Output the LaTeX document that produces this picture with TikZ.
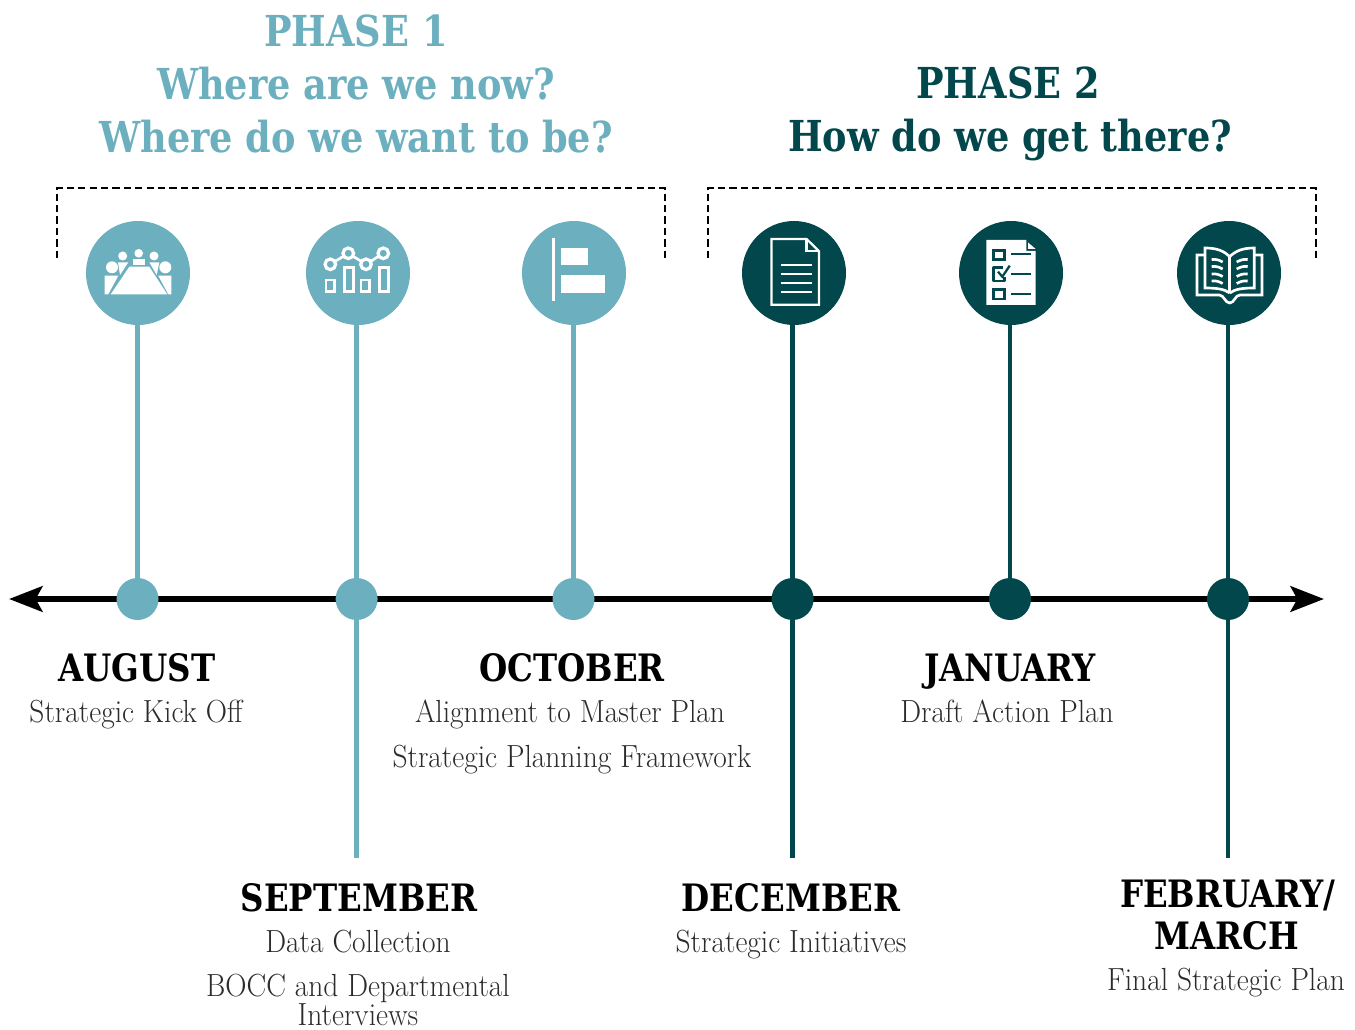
\documentclass[tikz,border=0pt]{standalone}
\usepackage{fontspec}
\usetikzlibrary{arrows.meta}
\newfontfamily\headfont[FakeStretch=0.86]{DejaVu Serif}
\newfontfamily\subfont[FakeStretch=0.92]{Latin Modern Roman}
\definecolor{phaseA}{HTML}{6CAFBE}
\definecolor{phaseB}{HTML}{02474B}
\definecolor{subgrey}{HTML}{2B2B2B}
\tikzset{
	phasetext/.style={font=\headfont\bfseries\fontsize{32}{32}\selectfont, inner sep=0pt, anchor=base},
	monthtext/.style={font=\headfont\bfseries\fontsize{28.3}{28.3}\selectfont, text=black, inner sep=0pt, anchor=base},
	subtext/.style={font=\subfont\fontsize{24}{24}\selectfont, text=subgrey, inner sep=0pt, anchor=base},
	iconA/.style={circle, fill=phaseA, minimum size=78pt, inner sep=0pt},
	iconB/.style={circle, fill=phaseB, minimum size=78pt, inner sep=0pt},
	dotA/.style={circle, fill=phaseA, minimum size=31.5pt, inner sep=0pt},
	dotB/.style={circle, fill=phaseB, minimum size=31.5pt, inner sep=0pt},
	stemA/.style={phaseA, line width=3.4pt},
	stemB/.style={phaseB, line width=3.4pt},
	bracket/.style={black, line width=1.9pt, dash pattern=on 5.5pt off 3.046pt},
	glyph/.style={white, line width=2pt},
}
\begin{document}
\begin{tikzpicture}[x=0.75pt, y=-0.75pt]
		\useasboundingbox (0,0) rectangle (1355,1030);
		% time line
		\coordinate (axL) at (9,599);
		\coordinate (axR) at (1324,599);
		\draw [line width=4.6pt, {Stealth[length=25pt,width=19pt,inset=5pt]}-{Stealth[length=25pt,width=19pt,inset=5pt]}] (axL) -- (axR);
		% circles on top
		\node [iconA] (ic1) at (138,273) {};
		\node [iconA] (ic2) at (358,273) {};
		\node [iconA] (ic3) at (574,273) {};
		\node [iconB] (ic4) at (794,273) {};
		\node [iconB] (ic5) at (1011,273) {};
		\node [iconB] (ic6) at (1229,273) {};
		% dots on the line
		\node [dotA] (dot1) at (137.5,599) {};
		\node [dotA] (dot2) at (356.6,599) {};
		\node [dotA] (dot3) at (573.5,599) {};
		\node [dotB] (dot4) at (792.6,599) {};
		\node [dotB] (dot5) at (1010,599) {};
		\node [dotB] (dot6) at (1228,599) {};
		% stems
		\coordinate (end2) at (356.6,858);
		\coordinate (end4) at (792.6,858);
		\coordinate (end6) at (1228,858);
		\draw [stemA] (dot1) -- (dot1 |- ic1.south);
		\draw [stemA] (dot2) -- (dot2 |- ic2.south);
		\draw [stemA] (dot3) -- (dot3 |- ic3.south);
		\draw [stemB] (dot4) -- (dot4 |- ic4.south);
		\draw [stemB] (dot5) -- (dot5 |- ic5.south);
		\draw [stemB] (dot6) -- (dot6 |- ic6.south);
		\draw [stemA] (dot2) -- (end2);
		\draw [stemB] (dot4) -- (end4);
		\draw [stemB] (dot6) -- (end6);
		% brackets
		\draw [bracket] (57,258) -- (57,188) -- (665,188) -- (665,258);
		\draw [bracket] (708,258) -- (708,188) -- (1316,188) -- (1316,258);
		% headings
		\node [phasetext, text=phaseA] (ph1) at (356,47) {PHASE 1};
		\node [phasetext, text=phaseA] (ph1a) at (356,100) {Where are we now?};
		\node [phasetext, text=phaseA] (ph1b) at (356,153) {Where do we want to be?};
		\node [phasetext, text=phaseB] (ph2) at (1008,99) {PHASE 2};
		\node [phasetext, text=phaseB] (ph2a) at (1010,152) {How do we get there?};
		% months
		\node [monthtext] (m1) at (137,681) {AUGUST};
		\node [subtext] (s1) at (136,722) {Strategic Kick Off};
		\node [monthtext] (m2) at (359,911) {SEPTEMBER};
		\node [subtext] (s2a) at (358,952) {Data Collection};
		\node [subtext] (s2b) at (358,996) {BOCC and Departmental};
		\node [subtext] (s2c) at (358,1025) {Interviews};
		\node [monthtext] (m3) at (572,681) {OCTOBER};
		\node [subtext] (s3a) at (570,722) {Alignment to Master Plan};
		\node [subtext] (s3b) at (572,767) {Strategic Planning Framework};
		\node [monthtext] (m4) at (791,911) {DECEMBER};
		\node [subtext] (s4) at (791,952) {Strategic Initiatives};
		\node [monthtext] (m5) at (1010,681) {JANUARY};
		\node [subtext] (s5) at (1007,722) {Draft Action Plan};
		\node [monthtext] (m6a) at (1228,907) {FEBRUARY/};
		\node [monthtext] (m6b) at (1227,949) {MARCH};
		\node [subtext] (s6) at (1226,990) {Final Strategic Plan};
		% meeting table
		\begin{scope}[shift={(ic1.center)}]
			\fill [white] (-8.7,-6.3) -- (11.3,-6.3) -- (29.3,21.3) -- (-27.3,21.3) -- cycle;
			\fill [white] (-5.3,-14) rectangle (7,-7.8);
			\fill [white] (0.7,-19.7) circle (4.3);
			\fill [white] (-15.3,-17) circle (4.5);
			\fill [white] (16,-17) circle (4.5);
			\fill [white] (-26,-5.7) circle (6);
			\fill [white] (27.3,-5.7) circle (6);
			\fill [white] (-33.3,2.7) -- (-19.7,2.7) -- (-29.7,21.3) -- (-33.3,21.3) -- cycle;
			\fill [white] (33.3,2.7) -- (20.3,2.7) -- (30.3,21.3) -- (33.3,21.3) -- cycle;
			\fill [white] (-20,-10.7) -- (-9.7,-10.7) -- (-18,2) -- cycle;
			\fill [white] (11.3,-10.7) -- (21.3,-10.7) -- (18.7,2) -- cycle;
		\end{scope}
		% chart
		\begin{scope}[shift={(ic2.center)}]
			\draw [glyph] (-32,7) rectangle (-23.3,18.7);
			\draw [glyph] (-13.7,-5.3) rectangle (-4.7,18.7);
			\draw [glyph] (3,7) rectangle (11.3,18.7);
			\draw [glyph] (21.3,-5.3) rectangle (30.3,18.7);
			\draw [glyph, line width=2.4pt] (-27.7,-8.7) circle (5.3);
			\draw [glyph, line width=2.4pt] (-9.7,-19.7) circle (5.3);
			\draw [glyph, line width=2.4pt] (8,-8.7) circle (5.3);
			\draw [glyph, line width=2.4pt] (25.3,-19.7) circle (5.3);
			\draw [glyph] (-23.4,-11.3) -- (-14,-17.1);
			\draw [glyph] (-5.4,-17.1) -- (3.7,-11.3);
			\draw [glyph] (12.3,-11.3) -- (21,-17.1);
		\end{scope}
		% gantt bars
		\begin{scope}[shift={(ic3.center)}]
			\draw [white, line width=1.7pt] (-20.4,-35) -- (-20.4,28);
			\fill [white] (-13.3,-24.7) rectangle (14,-7.7);
			\fill [white] (-13.3,1.7) rectangle (31,20);
		\end{scope}
		% document
		\begin{scope}[shift={(ic4.center)}]
			\draw [white, line width=1.7pt] (12.6,-34) -- (-22.6,-34) -- (-22.6,31.7) -- (25,31.7) -- (25,-21.7) -- cycle;
			\draw [white, line width=1.7pt] (12.6,-34) -- (12.6,-21.7) -- (25,-21.7);
			\draw [white, line width=1.7pt] (-13.4,-8.3) -- (17.6,-8.3);
			\draw [white, line width=1.7pt] (-13.4,0.7) -- (17.6,0.7);
			\draw [white, line width=1.7pt] (-13.4,9.7) -- (17.6,9.7);
			\draw [white, line width=1.7pt] (-13.4,18.7) -- (17.6,18.7);
		\end{scope}
		% check list
		\begin{scope}[shift={(ic5.center)}]
			\fill [white] (-24.7,-33) -- (15.3,-33) -- (15.3,-22) -- (24.7,-22) -- (24.7,32) -- (-24.7,32) -- cycle;
			\fill [white] (17,-30.5) -- (24.7,-24) -- (17,-24) -- cycle;
			\draw [phaseB, line width=2.2pt] (-17.3,-22.7) rectangle (-6.7,-13.3);
			\draw [phaseB, line width=2.2pt, line join=round] (-8,-5.3) -- (-17.3,-5.3) -- (-17.3,8) -- (-6.7,8) -- (-6.7,4);
			\draw [phaseB, line width=2.2pt] (-17.3,16.3) rectangle (-6.7,26);
			\draw [phaseB, line width=1.7pt] (0.3,-18.7) -- (20.3,-18.7);
			\draw [phaseB, line width=1.7pt] (0.3,1.3) -- (20.3,1.3);
			\draw [phaseB, line width=1.7pt] (0.3,21) -- (20.3,21);
			\draw [phaseB, line width=1.7pt] (-13,-1.3) -- (-8.7,3.7) -- (-1.3,-7.3);
		\end{scope}
		% open book
		\begin{scope}[shift={(ic6.center)}]
			\draw [glyph] (-24,-18) -- (-32,-18) -- (-32,22) -- (-9.7,22) .. controls (-5,22) and (-4,30) .. (0.7,30) .. controls (5.4,30) and (6,22) .. (11,22) -- (33,22) -- (33,-18) -- (25.3,-18);
			\draw [glyph] (0.7,-16.3) .. controls (-5,-22) and (-12,-25) .. (-24,-25) -- (-24,15) .. controls (-12,15) and (-5,16) .. (0.7,20);
			\draw [glyph] (0.7,-16.3) .. controls (6.4,-22) and (13.4,-25) .. (25.3,-25) -- (25.3,15) .. controls (13.4,15) and (6.4,16) .. (0.7,20);
			\draw [glyph] (0.7,-16.3) -- (0.7,20);
			\draw [glyph] (-17.3,-13.5) .. controls (-13,-14) and (-10,-13) .. (-6.3,-11);
			\draw [glyph] (-17.3,-6.5) .. controls (-13,-7) and (-10,-6) .. (-6.3,-4);
			\draw [glyph] (-17.3,1) .. controls (-13,0.5) and (-10,1.5) .. (-6.3,3.5);
			\draw [glyph] (-17.3,8) .. controls (-13,7.5) and (-10,8.5) .. (-6.3,10.5);
			\draw [glyph] (18.7,-13.5) .. controls (14.4,-14) and (11.4,-13) .. (7.7,-11);
			\draw [glyph] (18.7,-6.5) .. controls (14.4,-7) and (11.4,-6) .. (7.7,-4);
			\draw [glyph] (18.7,1) .. controls (14.4,0.5) and (11.4,1.5) .. (7.7,3.5);
			\draw [glyph] (18.7,8) .. controls (14.4,7.5) and (11.4,8.5) .. (7.7,10.5);
		\end{scope}
\end{tikzpicture}
\end{document}
